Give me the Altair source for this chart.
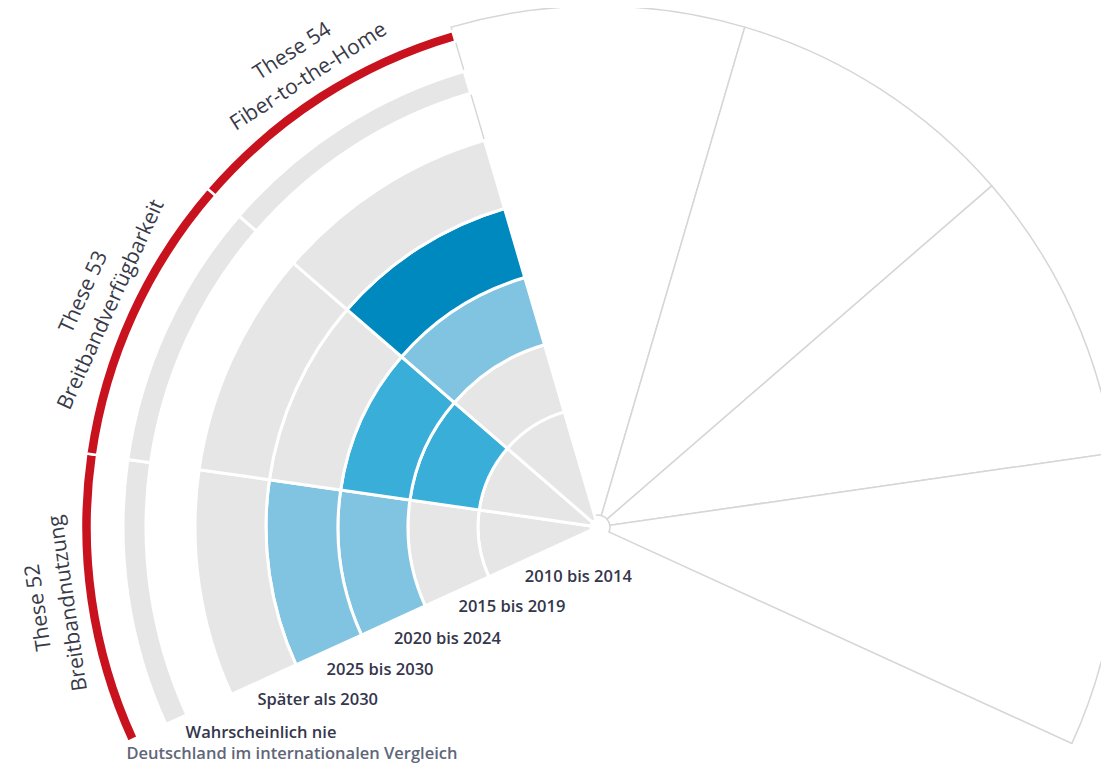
import math
import altair as alt
import pandas as pd

# ---------------- data ----------------
THESEN = ["These 52", "These 53", "These 54"]
THEMEN = ["Breitbandnutzung", "Breitbandverfügbarkeit", "Fiber-to-the-Home"]
ZEITRAEUME = ["2010 bis 2014", "2015 bis 2019", "2020 bis 2024",
              "2025 bis 2030", "Später als 2030", "Wahrscheinlich nie"]
AUSSEN_LABEL = "Deutschland im internationalen Vergleich"
# assessment per thesis and period (neutral = grey)
BEWERTUNG_52 = ["neutral", "neutral", "hell", "hell", "neutral", "neutral"]
BEWERTUNG_53 = ["neutral", "mittel", "mittel", "neutral", "neutral", "neutral"]
BEWERTUNG_54 = ["neutral", "neutral", "hell", "dunkel", "neutral", "neutral"]
LEERE_SEKTOREN = 4  # empty sectors on the right

KATEGORIEN = ["neutral", "hell", "mittel", "dunkel"]
FARBEN = ["#e6e6e6", "#80c4e2", "#38aed8", "#0089be"]

# ---------------- layout ----------------
N_SLOTS = 11                      # full circle divided in 11 sectors
CX, CY = 590, 519                 # centre inside the plot area
RING_INNER = [7, 120, 190, 260, 332, 452]
RING_OUTER = [120, 190, 260, 332, 403, 475]
ROT_INNER, ROT_OUTER = 506, 517
LEER_INNER, LEER_OUTER = 12, 521
LABEL_R = [87, 160, 231, 305, 381, 460, 525]
LABEL_DY = [14, 14, 16, 16, 15, 15, 9]
THESE_R, THEMA_R = 565, 535

bewertungen = [BEWERTUNG_52, BEWERTUNG_53, BEWERTUNG_54]

cells = []
for i, these in enumerate(THESEN):
    for j, zr in enumerate(ZEITRAEUME):
        cells.append(dict(these=these, zeitraum=zr, kat=bewertungen[i][j],
                          t0=i - 3.5, t1=i - 2.5,
                          r0=RING_INNER[j], r1=RING_OUTER[j]))
cells = pd.DataFrame(cells)

rot = pd.DataFrame([dict(these=t, t0=i - 3.5, t1=i - 2.5, r0=ROT_INNER, r1=ROT_OUTER)
                    for i, t in enumerate(THESEN)])

leer = pd.DataFrame([dict(t0=len(THESEN) + k - 3.5, t1=len(THESEN) + k - 2.5,
                          r0=LEER_INNER, r1=LEER_OUTER) for k in range(LEERE_SEKTOREN)])

ring_labels = pd.DataFrame([dict(label=l, t0=-3.5, r1=LABEL_R[k],
                                 aussen=(l == AUSSEN_LABEL))
                            for k, l in enumerate(ZEITRAEUME + [AUSSEN_LABEL])])

slot_deg = 360.0 / N_SLOTS
these_lab = []
for i, (t, th) in enumerate(zip(THESEN, THEMEN)):
    c = i - 3.0
    ang = (c * slot_deg) % 360
    these_lab.append(dict(label=t, t0=c, r1=THESE_R, ang=ang))
    these_lab.append(dict(label=th, t0=c, r1=THEMA_R, ang=ang))
these_lab = pd.DataFrame(these_lab)

# ---------------- scales ----------------
half = 3.5 * 2 * math.pi / N_SLOTS
theta_scale = alt.Scale(domain=[-3.5, 3.5], range=[-half, half])
r_scale = alt.Scale(type="linear", domain=[0, 600], range=[0, 600], zero=True)

X = alt.value(CX)
Y = alt.value(CY)

def arc_enc():
    return dict(
        x=X, y=Y,
        theta=alt.Theta("t0:Q", scale=theta_scale, stack=None),
        theta2="t1:Q",
        radius=alt.Radius("r1:Q", scale=r_scale),
        radius2="r0:Q",
    )

leer_layer = alt.Chart(leer).mark_arc(
    fill="white", stroke="#d6d6d6", strokeWidth=1.5
).encode(**arc_enc())

cell_layer = alt.Chart(cells).mark_arc(
    stroke="white", strokeWidth=3
).encode(
    color=alt.Color("kat:N", scale=alt.Scale(domain=KATEGORIEN, range=FARBEN), legend=None),
    **arc_enc()
)

rot_layer = alt.Chart(rot).mark_arc(
    fill="#c8121e", stroke="white", strokeWidth=2.5
).encode(**arc_enc())

ring_layers = []
for k in range(len(ring_labels)):
    row = ring_labels.iloc[[k]]
    aussen = bool(row["aussen"].iloc[0])
    ring_layers.append(
        alt.Chart(row).mark_text(
            align="left", baseline="middle", font="Open Sans",
            fontSize=16.5, fontWeight=600, dx=6, dy=int(LABEL_DY[k]),
            color="#5f6679" if aussen else "#34364c",
        ).encode(
            x=X, y=Y,
            theta=alt.Theta("t0:Q", scale=theta_scale, stack=None),
            radius=alt.Radius("r1:Q", scale=r_scale),
            text="label:N",
        )
    )

these_text = alt.Chart(these_lab).mark_text(
    align="center", baseline="middle", font="Open Sans", fontSize=21,
    fontWeight=400, color="#383a48"
).encode(
    x=X, y=Y,
    theta=alt.Theta("t0:Q", scale=theta_scale, stack=None),
    radius=alt.Radius("r1:Q", scale=r_scale),
    angle=alt.Angle("ang:Q", scale=None),
    text="label:N",
)

chart = alt.layer(leer_layer, cell_layer, rot_layer, *ring_layers, these_text).properties(
    width=1093, height=760, autosize=alt.AutoSizeParams(type="none"), padding=0
).configure_view(stroke=None)

chart.save("out.html", embed_options={"renderer": "svg", "actions": False})
